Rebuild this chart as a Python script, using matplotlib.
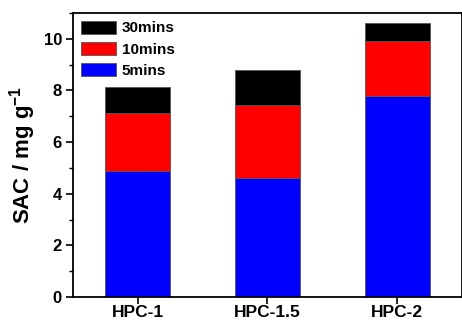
import matplotlib
matplotlib.use("Agg")
import matplotlib.pyplot as plt
from matplotlib.ticker import MultipleLocator
import numpy as np

plt.rcParams['font.family'] = ['Liberation Sans', 'DejaVu Sans']
plt.rcParams['font.weight'] = 'bold'
plt.rcParams['mathtext.fontset'] = 'custom'
plt.rcParams['mathtext.rm'] = 'Liberation Sans:bold'
plt.rcParams['mathtext.bf'] = 'Liberation Sans:bold'
plt.rcParams['mathtext.default'] = 'bf'

samples = ["HPC-1", "HPC-1.5", "HPC-2"]
sac_5min = [4.88, 4.63, 7.78]
sac_10min_extra = [2.24, 2.80, 2.12]
sac_30min_extra = [1.02, 1.37, 0.70]

fig = plt.figure(figsize=(4.62, 3.23), dpi=100)
ax = fig.add_axes([0.158, 0.08, 0.842, 0.88])

x = np.arange(len(samples))
w = 0.5
edge = dict(edgecolor="#555555", linewidth=0.6)
b1 = ax.bar(x, sac_5min, w, color="#0000ff", label="5mins", **edge)
bottom2 = np.array(sac_5min)
b2 = ax.bar(x, sac_10min_extra, w, bottom=bottom2, color="#ff0000", label="10mins", **edge)
bottom3 = bottom2 + np.array(sac_10min_extra)
b3 = ax.bar(x, sac_30min_extra, w, bottom=bottom3, color="#000000", label="30mins", **edge)

ax.set_xlim(-0.5, 2.5)
ax.set_ylim(0, 11)
ax.set_xticks(x)
ax.set_xticklabels(samples, fontsize=12.5, fontweight='bold')
ax.yaxis.set_major_locator(MultipleLocator(2))
ax.yaxis.set_minor_locator(MultipleLocator(1))
ax.tick_params(axis='y', which='major', direction='out', length=5, width=1.2, labelsize=12, pad=3)
ax.tick_params(axis='x', which='major', direction='out', length=5, width=1.2, labelsize=12.5, pad=1)
ax.tick_params(axis='y', which='minor', direction='out', length=3, width=1.0)
for lab in ax.get_yticklabels() + ax.get_xticklabels():
    lab.set_fontweight('bold')
for s in ax.spines.values():
    s.set_linewidth(1.3)

ax.set_ylabel(r"SAC / mg g$^{-1}$", fontsize=16, fontweight='bold', labelpad=4)

ax.legend(handles=[b3, b2, b1], loc='upper left', frameon=False,
          handlelength=2.3, handleheight=0.95, labelspacing=0.42,
          borderaxespad=0.2, borderpad=0.3, handletextpad=0.4,
          prop={'weight': 'bold', 'size': 11})

fig.savefig("out.png", dpi=100)
